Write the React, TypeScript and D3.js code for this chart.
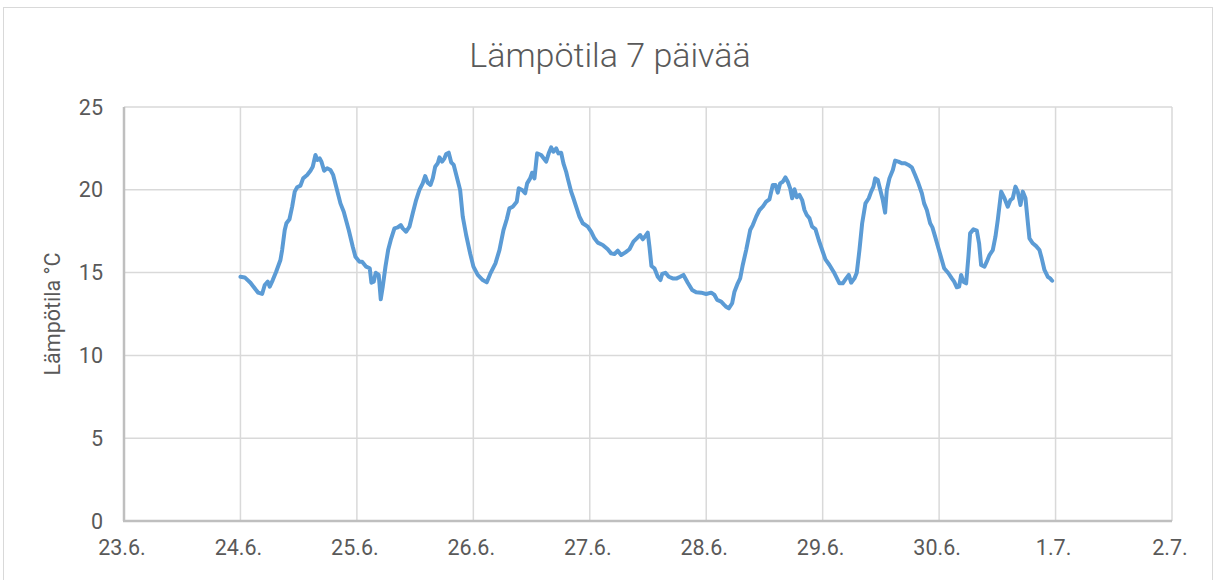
import React from "react";
import * as d3 from "d3";

const TITLE = "Lämpötila 7 päivää";
const Y_LABEL = "Lämpötila °C";
const X_TICK_LABELS = ["23.6.", "24.6.", "25.6.", "26.6.", "27.6.", "28.6.", "29.6.", "30.6.", "1.7.", "2.7."];
const Y_TICKS = [0, 5, 10, 15, 20, 25];

// hours since 24.6. 00:00
const hours = [
  0, 0.89, 2.06, 3.09, 3.65, 4.47, 5.01, 5.63, 6.04, 6.66, 7.36, 8.24, 8.59, 9.13, 9.48, 10.1, 10.66, 11.19, 11.69, 12.37,
  12.92, 13.75, 14.43, 14.9, 15.46, 15.87, 16.34, 16.69, 17.25, 17.87, 18.55, 19.11, 19.72, 20.61, 21.29, 22.32, 23.15, 23.7,
  24.53, 25.08, 25.91, 26.65, 27.0, 27.47, 27.89, 28.5, 28.92, 29.33, 29.89, 30.44, 30.98, 31.74, 32.42, 33.04, 33.45, 34.15,
  34.83, 35.51, 36.21, 36.89, 37.57, 38.07, 38.6, 39.16, 39.64, 40.13, 40.67, 41.02, 41.57, 42.05, 42.4, 42.93, 43.43, 43.96,
  44.58, 45.28, 45.82, 46.52, 47.34, 48.02, 48.91, 49.94, 50.77, 51.47, 52.56, 53.38, 54.21, 54.89, 55.44, 56.12, 56.95, 57.36,
  58.06, 58.68, 59.09, 59.71, 60.12, 60.6, 61.15, 61.98, 63.01, 63.54, 64.04, 64.51, 65.07, 65.54, 66.1, 66.57, 67.13, 67.46,
  68.16, 68.63, 69.19, 69.87, 70.55, 71.58, 72.28, 72.96, 73.64, 74.67, 75.7, 76.4, 77.08, 77.77, 78.47, 79.35, 80.18, 81.0,
  81.68, 82.38, 82.92, 83.47, 83.95, 84.3, 84.71, 85.33, 86.01, 86.57, 86.92, 87.6, 88.28, 89.1, 89.93, 90.63, 91.31, 92.19,
  93.1, 93.92, 94.96, 95.99, 97.02, 97.7, 98.25, 99.08, 99.76, 100.11, 100.65, 101.35, 101.82, 102.5, 103.0, 103.53, 104.23,
  105.06, 105.6, 106.3, 106.98, 107.66, 108.36, 109.03, 109.72, 110.27, 110.75, 111.24, 111.78, 112.33, 112.81, 113.3, 113.71,
  114.19, 114.66, 115.21, 115.77, 116.25, 116.72, 117.28, 117.83, 118.51, 119.19, 120.02, 120.57, 121.4, 122.43, 123.46,
  124.14, 124.84, 125.38, 125.87, 126.55, 127.03, 127.58, 128.14, 128.82, 129.5, 130.0, 130.47, 130.82, 131.36, 132.4, 132.87,
  133.22, 133.76, 134.46, 134.93, 135.61, 136.31, 136.99, 137.67, 138.37, 139.05, 139.73, 140.44, 140.91, 141.47, 142.15,
  142.62, 143.18, 143.86, 144.56, 145.04, 145.92, 146.62, 147.1, 147.65, 148.13, 148.54, 149.01, 149.57, 150.04, 150.39,
  151.07, 151.77, 152.24, 152.66, 153.35, 153.82, 154.38, 155.06, 155.61, 156.09, 156.79, 157.47, 158.15, 158.7, 159.18,
  159.73, 160.21, 160.77, 161.24, 161.8, 162.27, 162.62, 163.3, 164.0, 164.68, 165.15, 165.71, 166.39, 166.88, 167.3,
];

const temps = [
  14.75, 14.71, 14.39, 13.99, 13.79, 13.71, 14.25, 14.45, 14.15, 14.55, 15.05, 15.76, 16.36, 17.57, 17.98, 18.22, 18.98, 19.89,
  20.15, 20.25, 20.69, 20.89, 21.15, 21.39, 22.1, 21.8, 21.9, 21.7, 21.15, 21.3, 21.2, 20.9, 20.2, 19.18, 18.68, 17.57, 16.56,
  15.96, 15.66, 15.66, 15.36, 15.26, 14.39, 14.45, 14.99, 14.86, 13.39, 14.15, 15.36, 16.36, 16.97, 17.67, 17.73, 17.87, 17.67,
  17.47, 17.77, 18.58, 19.38, 19.99, 20.39, 20.83, 20.43, 20.29, 20.69, 21.39, 21.6, 21.96, 21.7, 21.9, 22.16, 22.24, 21.66,
  21.5, 20.79, 19.99, 18.38, 17.27, 16.16, 15.36, 14.86, 14.55, 14.41, 14.92, 15.56, 16.36, 17.57, 18.22, 18.88, 18.98, 19.28,
  20.09, 19.99, 19.79, 20.39, 20.69, 21.03, 20.69, 22.2, 22.1, 21.7, 22.2, 22.56, 22.3, 22.5, 22.2, 22.24, 21.6, 21.09, 20.69,
  19.89, 19.49, 18.98, 18.38, 17.98, 17.77, 17.47, 17.07, 16.81, 16.67, 16.41, 16.16, 16.12, 16.32, 16.06, 16.22, 16.41, 16.87,
  17.07, 17.27, 17.01, 17.21, 17.41, 16.56, 15.4, 15.26, 14.75, 14.55, 14.92, 14.99, 14.75, 14.65, 14.65, 14.75, 14.86, 14.39,
  13.95, 13.81, 13.79, 13.71, 13.79, 13.65, 13.35, 13.25, 13.04, 12.94, 12.84, 13.15, 13.85, 14.35, 14.65, 15.46, 16.36, 17.57,
  17.87, 18.38, 18.78, 18.98, 19.28, 19.42, 20.29, 20.29, 19.83, 20.39, 20.49, 20.75, 20.49, 20.09, 19.49, 20.03, 19.55, 19.69,
  19.38, 18.78, 18.48, 18.28, 17.77, 17.63, 16.97, 16.26, 15.8, 15.46, 14.96, 14.35, 14.35, 14.65, 14.86, 14.39, 14.65, 14.99,
  16.36, 17.98, 19.18, 19.49, 19.89, 20.19, 20.69, 20.59, 19.38, 18.62, 19.99, 20.69, 21.2, 21.76, 21.7, 21.6, 21.6, 21.5,
  21.36, 20.89, 20.39, 19.79, 19.18, 18.78, 17.98, 17.73, 17.17, 16.47, 15.76, 15.26, 14.96, 14.65, 14.45, 14.11, 14.15, 14.86,
  14.45, 14.35, 15.96, 17.37, 17.61, 17.53, 16.77, 15.46, 15.36, 15.66, 16.06, 16.36, 17.17, 18.18, 19.89, 19.49, 18.98, 19.38,
  19.49, 20.19, 19.89, 19.08, 19.89, 19.49, 18.08, 17.07, 16.77, 16.6, 16.36, 15.86, 15.16, 14.75, 14.65, 14.51,
];

const W = 1216;
const H = 580;
const M = { left: 124, right: 1172, top: 107, bottom: 521 };
const FONT = "Roboto, 'Liberation Sans', Arial, sans-serif";
const TEXT = "#595959";

export default function App() {
  const start = new Date(2019, 5, 23);
  const end = d3.timeDay.offset(start, X_TICK_LABELS.length - 1);
  const base = d3.timeDay.offset(start, 1);
  const x = d3.scaleTime().domain([start, end]).range([M.left, M.right]);
  const y = d3.scaleLinear().domain([0, 25]).range([M.bottom, M.top]);
  const data = hours.map((h, i) => ({ t: new Date(base.getTime() + h * 3600000), v: temps[i] }));
  const line = d3
    .line<{ t: Date; v: number }>()
    .x((d) => x(d.t))
    .y((d) => y(d.v))
    .curve(d3.curveLinear);
  const tickDates = X_TICK_LABELS.map((_, i) => d3.timeDay.offset(start, i));

  return (
    <svg width={W} height={H} style={{ position: "absolute", left: 0, top: 0, background: "#fff" }}>
      <rect x={3.5} y={7.5} width={1209} height={600} fill="#fff" stroke="#d9d9d9" strokeWidth={1} />
      <text x={610} y={67} textAnchor="middle" fontFamily={FONT} fontSize={34} fill={TEXT} fontWeight={300}>
        {TITLE}
      </text>
      {Y_TICKS.map((t) => (
        <g key={"y" + t}>
          {t > 0 && <line x1={M.left} x2={M.right} y1={y(t)} y2={y(t)} stroke="#d9d9d9" strokeWidth={1.5} />}
          <text x={103} y={y(t)} dy="0.35em" textAnchor="end" fontFamily={FONT} fontSize={21.5} fill={TEXT}>
            {t}
          </text>
        </g>
      ))}
      {tickDates.map((d, i) => (
        <g key={"x" + i}>
          {i > 0 && <line x1={x(d)} x2={x(d)} y1={M.top} y2={M.bottom} stroke="#d9d9d9" strokeWidth={1.5} />}
          <text x={x(d) - 2} y={555} textAnchor="middle" fontFamily={FONT} fontSize={21.5} fill={TEXT}>
            {X_TICK_LABELS[i]}
          </text>
        </g>
      ))}
      <line x1={M.left} x2={M.left} y1={M.top} y2={M.bottom} stroke="#bfbfbf" strokeWidth={2.5} />
      <line x1={M.left - 1} x2={M.right} y1={M.bottom} y2={M.bottom} stroke="#bfbfbf" strokeWidth={2.5} />
      <text
        transform={`translate(60,314) rotate(-90)`}
        textAnchor="middle"
        fontFamily={FONT}
        fontSize={21.5}
        fill={TEXT}
      >
        {Y_LABEL}
      </text>
      <path d={line(data) || ""} fill="none" stroke="#5b9bd5" strokeWidth={4} strokeLinejoin="round" strokeLinecap="round" />
    </svg>
  );
}
